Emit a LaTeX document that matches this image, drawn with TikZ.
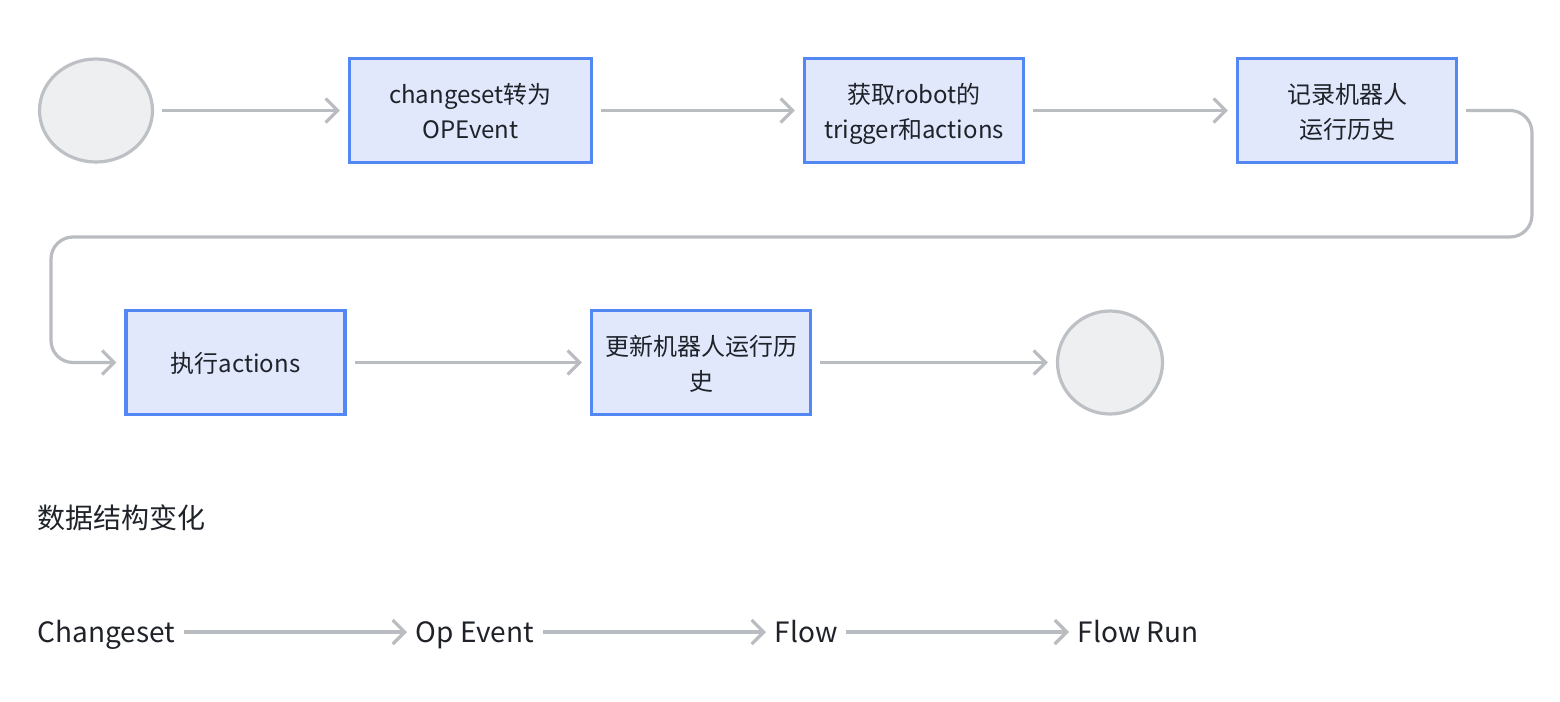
\documentclass[tikz,border=0pt]{standalone}
\usepackage{fontspec}
\setmainfont{Noto Sans CJK SC}
\usetikzlibrary{arrows.meta,shapes.geometric}
\definecolor{boxfill}{HTML}{E1E8FC}
\definecolor{boxline}{HTML}{5388F4}
\definecolor{termfill}{HTML}{EEEFF1}
\definecolor{termline}{HTML}{BDC0C5}
\definecolor{arrowgray}{HTML}{B9BCC1}
\definecolor{ink}{HTML}{1F2329}
\begin{document}
\begin{tikzpicture}[x=0.5pt, y=-0.5pt, thick,
    main/.style = {draw=boxline, fill=boxfill, line width=1.6pt, minimum width=109.5pt, minimum height=52pt, text depth=0pt, text=ink, align=center, font=\fontsize{12}{17.5}\selectfont},
    term/.style = {draw=termline, fill=termfill, line width=1.6pt, ellipse, minimum height=51.5pt},
    data/.style = {anchor=west, inner sep=0pt, text height=12pt, text depth=2pt, text=ink, font=\fontsize{14}{17}\selectfont},
    flow/.style = {draw=arrowgray, line width=1.6pt, -{Straight Barb[length=6pt,width=12pt]}, shorten <=4pt, shorten >=4pt}]
    \useasboundingbox (0,0) rectangle (1560,702);
    \node[term, minimum width=56.5pt] (0) at (96,110.5) {};
    \node[main, minimum width=121pt] (1) at (470.5,110.5) {changeset转为\\OPEvent};
    \node[main] (2) at (914,110.5) {获取robot的\\trigger和actions};
    \node[main] (3) at (1347,110.5) {记录机器人\\运行历史};
    \node[main] (4) at (235.5,362.5) {执行actions};
    \node[main] (5) at (701,362.5) {更新机器人运行历\\史};
    \node[term, minimum width=52.5pt] (6) at (1110,362.5) {};
    \coordinate (r) at (1532,237);
    \coordinate (l) at (51,237);
    %steps
    \draw[flow] (0) -- (1);
    \draw[flow] (1) -- (2);
    \draw[flow] (2) -- (3);
    \draw[flow, rounded corners=11pt] (3) -| (r) -- (l) |- (4);
    \draw[flow] (4) -- (5);
    \draw[flow] (5) -- (6);

    %data
    \node[data] (t) at (37,518) {数据结构变化};
    \node[data] (a) at (37,632) {Changeset};
    \node[data] (b) at (415,632) {Op Event};
    \node[data] (c) at (774,632) {Flow};
    \node[data] (d) at (1077,632) {Flow Run};
    \draw[flow] (a) -- (b);
    \draw[flow] (b) -- (c);
    \draw[flow] (c) -- (d);
\end{tikzpicture}
\end{document}
